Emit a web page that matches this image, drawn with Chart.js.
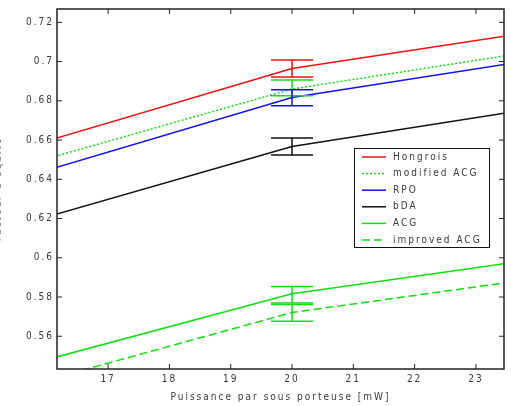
<!DOCTYPE html>
<html>
<head>
<meta charset="utf-8">
<script src="https://cdn.jsdelivr.net/npm/chart.js@4"></script>
<style>html,body{margin:0;padding:0;background:#fff}</style>
</head>
<body>
<canvas id="lineChart" width="511" height="406"></canvas>
<script>
// data
var powers = [16, 20, 24];
var xTicks = [17, 18, 19, 20, 21, 22, 23];
var yTicks = [0.56, 0.58, 0.6, 0.62, 0.64, 0.66, 0.68, 0.7, 0.72];
var names = ["Hongrois", "modified ACG", "RPO", "bDA", "ACG", "improved ACG"];
var hongrois = [0.6595, 0.6965, 0.7155];
var modifiedAcg = [0.6505, 0.686, 0.7055];
var rpo = [0.6446, 0.6817, 0.7011];
var bda = [0.6208, 0.6567, 0.6763];
var acg = [0.5481, 0.5816, 0.5993];
var improvedAcg = [0.5377, 0.5721, 0.5895];
// error bars at 20 mW
var errX = 20;
var errLow = [0.6922, 0.6826, 0.6775, 0.6524, 0.5770, 0.5677];
var errHigh = [0.7008, 0.6906, 0.6856, 0.6610, 0.5854, 0.5762];

var RED = '#f01010', GREEN = '#10e010', BLUE = '#1010f0', BLACK = '#111111';
var FONT = "'Liberation Sans Narrow','DejaVu Sans Condensed',sans-serif";
var TEXT = '#3a3a3a';
var series = [hongrois, modifiedAcg, rpo, bda, acg, improvedAcg];
var colors = [RED, GREEN, BLUE, BLACK, GREEN, GREEN];
var dashes = [[], [2, 2], [], [], [], [8, 4]];

function pts(vals) {
  return vals.map(function (v, i) { return {x: powers[i], y: v}; });
}

var spacing = {
  id: 'spacing',
  beforeDraw: function (chart) { chart.ctx.letterSpacing = '2px'; }
};

var extras = {
  id: 'extras',
  afterDatasetsDraw: function (chart) {
    var ctx = chart.ctx, xs = chart.scales.x, ys = chart.scales.y;
    var px = xs.getPixelForValue(errX);
    ctx.save();
    ctx.lineWidth = 1.5;
    for (var i = 0; i < names.length; i++) {
      var yl = ys.getPixelForValue(errLow[i]), yh = ys.getPixelForValue(errHigh[i]);
      ctx.strokeStyle = colors[i];
      ctx.beginPath();
      ctx.moveTo(px, yl); ctx.lineTo(px, yh);
      ctx.moveTo(px - 21, yl); ctx.lineTo(px + 21, yl);
      ctx.moveTo(px - 21, yh); ctx.lineTo(px + 21, yh);
      ctx.stroke();
    }
    ctx.restore();
  },
  afterDraw: function (chart) {
    var ctx = chart.ctx, a = chart.chartArea, xs = chart.scales.x, ys = chart.scales.y;
    ctx.save();
    ctx.strokeStyle = '#222';
    ctx.lineWidth = 1.5;
    ctx.strokeRect(a.left, a.top, a.right - a.left, a.bottom - a.top);
    ctx.beginPath();
    xTicks.forEach(function (t) {
      var x = xs.getPixelForValue(t);
      ctx.moveTo(x, a.bottom); ctx.lineTo(x, a.bottom - 5);
      ctx.moveTo(x, a.top); ctx.lineTo(x, a.top + 5);
    });
    yTicks.forEach(function (t) {
      var y = ys.getPixelForValue(t);
      ctx.moveTo(a.left, y); ctx.lineTo(a.left + 5, y);
      ctx.moveTo(a.right, y); ctx.lineTo(a.right - 5, y);
    });
    ctx.lineWidth = 1;
    ctx.stroke();

    // legend
    ctx.fillStyle = '#fff';
    ctx.fillRect(354, 148, 135, 99);
    ctx.strokeStyle = '#111';
    ctx.lineWidth = 1;
    ctx.strokeRect(354.5, 148.5, 135, 99);
    ctx.font = '10px ' + FONT;
    ctx.textBaseline = 'middle';
    ctx.letterSpacing = '2px';
    for (var i = 0; i < names.length; i++) {
      var y = 157 + i * 16.6;
      ctx.strokeStyle = colors[i];
      ctx.setLineDash(dashes[i]);
      ctx.lineWidth = 1.5;
      ctx.beginPath();
      ctx.moveTo(362, y); ctx.lineTo(386, y);
      ctx.stroke();
      ctx.setLineDash([]);
      ctx.fillStyle = TEXT;
      ctx.fillText(names[i], 393, y);
    }
    ctx.restore();
  }
};

var ctxL = document.getElementById("lineChart").getContext('2d');
var myLineChart = new Chart(ctxL, {
  type: 'line',
  data: {
    datasets: series.map(function (s, i) {
      return {
        label: names[i],
        data: pts(s),
        borderColor: colors[i],
        backgroundColor: colors[i],
        borderDash: dashes[i],
        borderWidth: 1.5,
        pointRadius: 0,
        tension: 0,
        fill: false
      };
    })
  },
  options: {
    responsive: false,
    animation: false,
    devicePixelRatio: 1,
    layout: {padding: {top: 6, right: 7, left: 0, bottom: 0}},
    plugins: {legend: {display: false}, tooltip: {enabled: false}},
    scales: {
      x: {
        type: 'linear',
        min: 16.166,
        max: 23.458,
        grid: {display: false, drawTicks: false},
        border: {display: false},
        afterBuildTicks: function (s) { s.ticks = xTicks.map(function (v) { return {value: v}; }); },
        afterFit: function (s) { s.height = 37; },
        ticks: {color: TEXT, padding: 4, maxRotation: 0, font: {family: FONT, size: 10}},
        title: {display: true, text: 'Puissance par sous porteuse [mW]', color: TEXT,
                padding: {top: 0, bottom: 3}, font: {family: FONT, size: 10}}
      },
      y: {
        min: 0.5433,
        max: 0.7268,
        grid: {display: false, drawTicks: false},
        border: {display: false},
        afterBuildTicks: function (s) { s.ticks = yTicks.map(function (v) { return {value: v}; }); },
        afterFit: function (s) { s.width = 57; },
        ticks: {color: TEXT, padding: 3, font: {family: FONT, size: 10},
                callback: function (v) { return String(Number(v.toFixed(2))); }},
        title: {display: true, text: "Facteur d'équité", color: '#777',
                padding: {top: -8, bottom: 0}, font: {family: FONT, size: 10}}
      }
    }
  },
  plugins: [spacing, extras]
});
</script>
</body>
</html>
